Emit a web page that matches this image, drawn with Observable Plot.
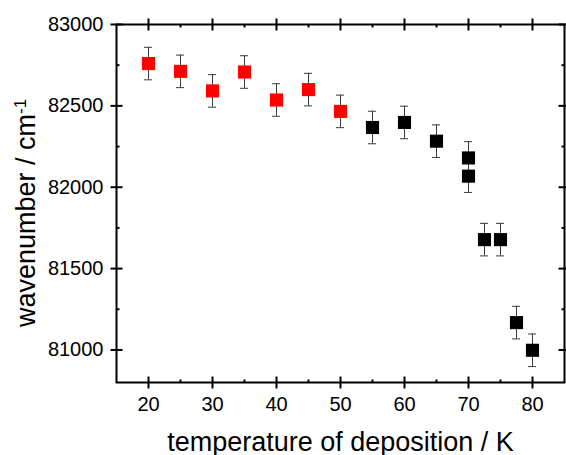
<!DOCTYPE html>
<html>
<head>
<meta charset="utf-8">
<script src="https://cdn.jsdelivr.net/npm/d3@7"></script>
<script src="https://cdn.jsdelivr.net/npm/@observablehq/plot@0.6"></script>
<style>
  html, body { margin: 0; padding: 0; background: #fff; }
  #chart svg { display: block; }
</style>
</head>
<body>
<div id="chart"></div>
<script>
// Data
const temperatures = [20, 25, 30, 35, 40, 45, 50, 55, 60, 65, 70, 70, 72.5, 75, 77.5, 80];
const wavenumbers  = [82760, 82712, 82592, 82708, 82536, 82600, 82466, 82367, 82398, 82283, 82180, 82068, 81678, 81678, 81168, 80998];
const errors       = [100, 100, 100, 100, 100, 100, 100, 100, 100, 100, 100, 100, 100, 100, 100, 100];
const groups       = ["red", "red", "red", "red", "red", "red", "red", "black", "black", "black", "black", "black", "black", "black", "black", "black"];

const xMajorTicks = [20, 30, 40, 50, 60, 70, 80];
const xMinorTicks = [25, 35, 45, 55, 65, 75];
const yMajorTicks = [81000, 81500, 82000, 82500, 83000];
const yMinorTicks = [81250, 81750, 82250, 82750];

const xDomain = [15, 85];
const yDomain = [80800, 83000];

const xTitle = "temperature of deposition / K";
const yTitle = "wavenumber / cm";
const yTitleSup = "-1";

const data = temperatures.map((t, i) => ({
  t, w: wavenumbers[i], e: errors[i], g: groups[i]
}));

const W = 566, H = 455;
const mL = 116, mR = 2, mT = 24, mB = 73;
const frameW = W - mL - mR;
const ux = (xDomain[1] - xDomain[0]) / frameW;
const capHalf = 4 * ux;
const majorLen = 6, minorLen = 3;
const ink = "#000";

const font = "Liberation Sans, Arial, sans-serif";

const chart = Plot.plot({
  width: W,
  height: H,
  marginLeft: mL,
  marginRight: mR,
  marginTop: mT,
  marginBottom: mB,
  style: { fontFamily: font, background: "#fff" },
  x: { domain: xDomain, axis: null },
  y: { domain: yDomain, axis: null },
  color: { domain: ["red", "black"], range: ["#ff0000", "#000000"] },
  marks: [
    // error bars
    Plot.ruleX(data, { x: "t", y1: d => d.w - d.e, y2: d => d.w + d.e, stroke: "#3a3a3a", strokeWidth: 1 }),
    Plot.ruleY(data, { y: d => d.w + d.e, x1: d => d.t - capHalf, x2: d => d.t + capHalf, stroke: "#3a3a3a", strokeWidth: 1 }),
    Plot.ruleY(data, { y: d => d.w - d.e, x1: d => d.t - capHalf, x2: d => d.t + capHalf, stroke: "#3a3a3a", strokeWidth: 1 }),
    // squares
    Plot.dot(data, { x: "t", y: "w", symbol: "square", r: 7.4, fill: d => d.g, stroke: null }),
    // frame
    Plot.frame({ strokeWidth: 2, stroke: ink }),
    // tick labels
    Plot.axisX({ anchor: "bottom", ticks: xMajorTicks, tickSize: 0, tickPadding: 14, tickFormat: d => String(d), fontSize: 20, fill: ink, label: null }),
    Plot.axisY({ anchor: "left", ticks: yMajorTicks, tickSize: 0, tickPadding: 13, tickFormat: d => String(d), fontSize: 20, fill: ink, label: null }),
    // x title
    Plot.text([xTitle], { frameAnchor: "bottom", text: d => d, dy: 68, lineAnchor: "bottom", fontSize: 27, fill: ink })
  ]
});

document.getElementById("chart").appendChild(chart);

const svg = d3.select(chart);

// tick marks on all four sides, positioned through Plot's own scales
const sx = chart.scale("x"), sy = chart.scale("y");
const edgeL = mL + 0.5, edgeR = W - mR + 0.5, edgeT = mT + 0.5, edgeB = H - mB + 0.5;
const tg = svg.append("g").attr("stroke", ink).attr("stroke-width", 2).attr("fill", "none");
function drawXTicks(values, inner, outer) {
  for (const v of values) {
    const px = sx.apply(v) + 0.5;
    tg.append("line").attr("x1", px).attr("x2", px).attr("y1", edgeB - inner).attr("y2", edgeB + outer);
    tg.append("line").attr("x1", px).attr("x2", px).attr("y1", edgeT + inner).attr("y2", edgeT - outer);
  }
}
function drawYTicks(values, inner, outer) {
  for (const v of values) {
    const py = sy.apply(v) + 0.5;
    tg.append("line").attr("y1", py).attr("y2", py).attr("x1", edgeL + inner).attr("x2", edgeL - outer);
    tg.append("line").attr("y1", py).attr("y2", py).attr("x1", edgeR - inner).attr("x2", edgeR + outer);
  }
}
drawXTicks(xMajorTicks, majorLen, majorLen);
drawXTicks(xMinorTicks, minorLen, 0);
drawYTicks(yMajorTicks, majorLen, majorLen);
drawYTicks(yMinorTicks, minorLen, 0);

// y title with superscript
const yt = svg.append("text")
  .attr("transform", "translate(35, 213) rotate(-90)")
  .attr("text-anchor", "middle")
  .attr("font-family", font)
  .attr("font-size", 27)
  .attr("fill", ink);
yt.append("tspan").text(yTitle);
yt.append("tspan").attr("dy", "-0.55em").attr("font-size", 17).text(yTitleSup);
</script>
</body>
</html>
